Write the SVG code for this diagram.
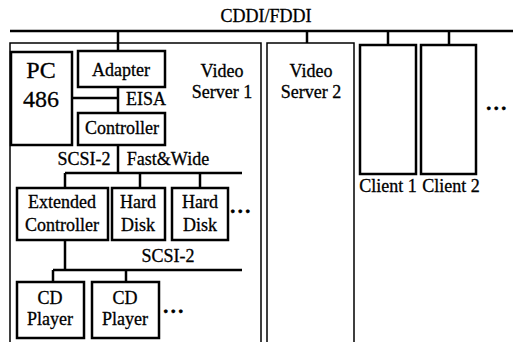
<svg xmlns="http://www.w3.org/2000/svg" width="513" height="342" viewBox="0 0 513 342">
<style>
text{font-family:"Liberation Serif","Times New Roman",serif;font-size:18px;fill:#000;stroke:#000;stroke-width:0.3;text-anchor:middle}
.big{font-size:24px}
.dots{font-size:22px;font-weight:bold;letter-spacing:2px;text-anchor:start}
.box{fill:#fff;stroke:#000;stroke-width:2.5}
.srv{fill:none;stroke:#000;stroke-width:1.5}
.ln{fill:none;stroke:#000;stroke-width:2.5}
</style>
<rect width="513" height="342" fill="#fff"/>
<text x="266" y="22">CDDI/FDDI</text>
<g id="connectors">
<line class="ln" x1="10" y1="31" x2="513" y2="31"/>
<line class="ln" x1="118" y1="31" x2="118" y2="51"/>
<line class="ln" x1="307" y1="31" x2="307" y2="43"/>
<line class="ln" x1="388" y1="31" x2="388" y2="45"/>
<line class="ln" x1="449" y1="31" x2="449" y2="45"/>
<line class="ln" x1="118" y1="87" x2="118" y2="113"/>
<line class="ln" x1="72" y1="98" x2="118" y2="98"/>
<line class="ln" x1="118" y1="145" x2="118" y2="173"/>
<line class="ln" x1="65" y1="173" x2="242" y2="173"/>
<line class="ln" x1="65" y1="173" x2="65" y2="188"/>
<line class="ln" x1="140" y1="173" x2="140" y2="188"/>
<line class="ln" x1="200" y1="173" x2="200" y2="188"/>
<line class="ln" x1="65" y1="240" x2="65" y2="270"/>
<line class="ln" x1="53" y1="270" x2="242" y2="270"/>
<line class="ln" x1="53" y1="270" x2="53" y2="282"/>
<line class="ln" x1="126" y1="270" x2="126" y2="282"/>
<text x="126" y="105" style="text-anchor:start">EISA</text>
<text x="84" y="165">SCSI-2</text>
<text x="168" y="165">Fast&amp;Wide</text>
<text x="168" y="262">SCSI-2</text>
</g>
<g id="vs1">
<path class="srv" d="M10,342 V43 H261 V342"/>
<text x="222" y="77">Video</text>
<text x="222" y="98">Server 1</text>
</g>
<g id="vs2">
<path class="srv" d="M267,342 V43 H354 V342"/>
<text x="311" y="77">Video</text>
<text x="311" y="98">Server 2</text>
</g>
<g id="pc">
<rect class="box" x="11" y="52" width="61" height="93"/>
<text class="big" x="41" y="78">PC</text>
<text class="big" x="41" y="107">486</text>
</g>
<g id="adapter">
<rect class="box" x="78" y="51" width="87" height="36"/>
<text x="121" y="76">Adapter</text>
</g>
<g id="controller">
<rect class="box" x="78" y="113" width="87" height="32"/>
<text x="122" y="134">Controller</text>
</g>
<g id="extctrl">
<rect class="box" x="17" y="188" width="91" height="52"/>
<text x="62" y="208">Extended</text>
<text x="62" y="231">Controller</text>
</g>
<g id="hd1">
<rect class="box" x="112" y="188" width="53" height="52"/>
<text x="138" y="208">Hard</text>
<text x="138" y="231">Disk</text>
</g>
<g id="hd2">
<rect class="box" x="172" y="188" width="56" height="52"/>
<text x="200" y="208">Hard</text>
<text x="200" y="231">Disk</text>
</g>
<text class="dots" x="230" y="213">...</text>
<g id="cd1">
<rect class="box" x="17" y="282" width="67" height="56"/>
<text x="50" y="304">CD</text>
<text x="50" y="325">Player</text>
</g>
<g id="cd2">
<rect class="box" x="92" y="282" width="67" height="56"/>
<text x="125" y="304">CD</text>
<text x="125" y="325">Player</text>
</g>
<text class="dots" x="163" y="313">...</text>
<g id="client1">
<rect class="box" x="360" y="45" width="56" height="129"/>
<text x="388" y="192">Client 1</text>
</g>
<g id="client2">
<rect class="box" x="421" y="45" width="55" height="129"/>
<text x="451" y="192">Client 2</text>
</g>
<text class="dots" x="486" y="110">...</text>
</svg>
